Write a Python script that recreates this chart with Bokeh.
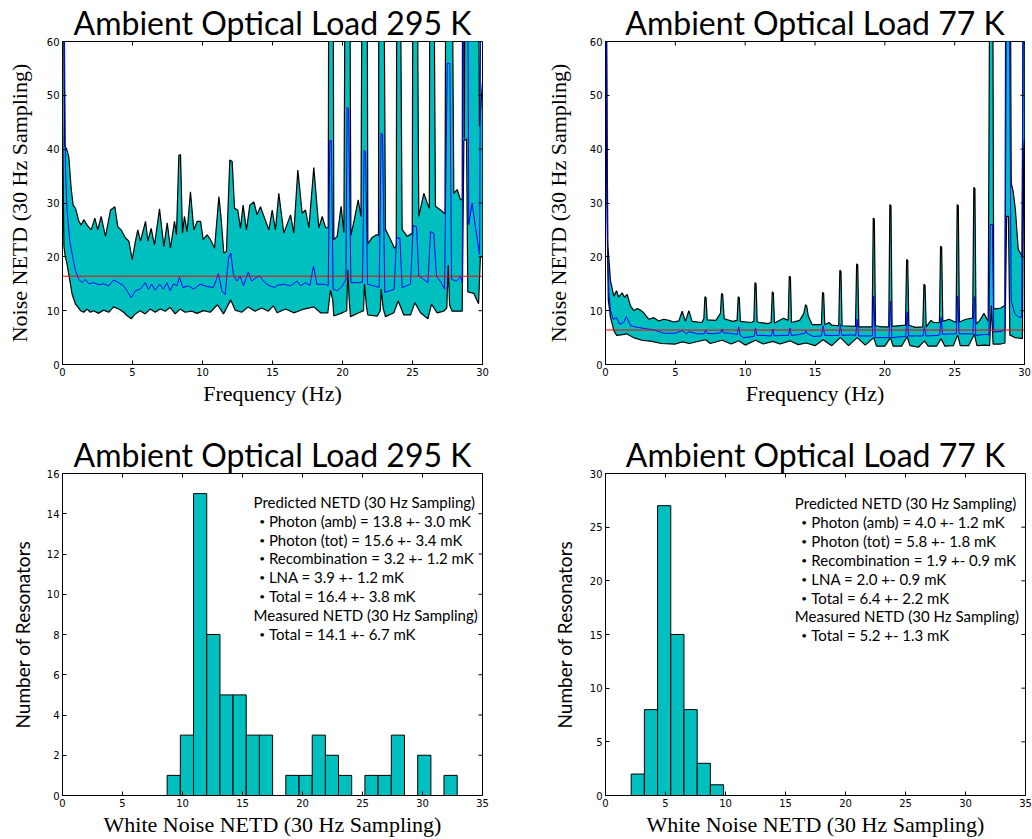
from bokeh.plotting import figure
from bokeh.models import Range1d, FixedTicker, Span, ColumnDataSource
from bokeh.layouts import column, row
from bokeh.embed import file_html
from bokeh.resources import INLINE
from bokeh.core.properties import value

# ---------------- noise spectra, 295 K load ----------------
freq_hi_295 = [0.0, 0.08, 0.16, 0.29, 0.45, 0.62, 0.76, 0.93, 1.17, 1.33, 1.52, 1.76, 2.05, 2.31, 2.52,
               2.76, 3.07, 3.43, 3.74, 3.95, 4.19, 4.5, 4.74, 4.98, 5.21, 5.38, 5.57, 5.93, 6.1, 6.33,
               6.57, 6.93, 7.24, 7.48, 7.71, 8.0, 8.14, 8.31, 8.43, 8.57, 8.71, 8.9, 9.14, 9.38, 9.62,
               9.86, 10.05, 10.33, 10.57, 10.86, 11.17, 11.33, 11.52, 11.71, 11.95, 12.12, 12.29, 12.52,
               12.71, 12.9, 13.14, 13.38, 13.67, 13.9, 14.14, 14.43, 14.74, 14.98, 15.21, 15.45, 15.81,
               16.29, 16.52, 16.81, 17.12, 17.36, 17.6, 17.95, 18.31, 18.55, 18.79, 18.98, 19.02, 19.33,
               19.38, 19.62, 19.9, 20.1, 20.19, 20.52, 20.6, 20.85, 21.12, 21.32, 21.4, 21.76, 21.81,
               22.12, 22.43, 22.57, 22.6, 22.95, 23.07, 23.43, 23.71, 23.84, 23.88, 24.12, 24.26, 24.62,
               24.98, 25.03, 25.33, 25.45, 25.81, 26.05, 26.2, 26.24, 26.52, 26.64, 27.0, 27.32, 27.38,
               27.83, 27.95, 28.19, 28.43, 28.55, 28.58, 28.65, 28.7, 28.76, 29.72, 29.78, 30.0]
netd_hi_295 = [90, 70, 40.5, 40.1, 38.6, 32.7, 29.6, 29.0, 26.6, 25.9, 26.9, 25.9, 25.0, 27.2, 25.0,
               27.5, 23.8, 28.7, 29.3, 25.6, 25.0, 23.5, 22.9, 19.5, 22.9, 25.0, 22.9, 26.6, 22.9, 25.3,
               22.2, 28.9, 21.9, 26.3, 21.6, 26.6, 24.1, 38.8, 39.0, 24.4, 27.5, 24.7, 32.1, 25.0, 26.6,
               26.6, 23.2, 24.1, 23.2, 21.6, 31.2, 27.2, 20.7, 21.0, 38.0, 37.7, 29.0, 28.7,
               25.3, 29.6, 25.0, 29.6, 30.2, 27.8, 29.3, 27.2, 25.0, 28.7, 25.0, 31.8, 24.4,
               27.8, 24.4, 36.1, 28.1, 28.7, 25.4, 36.6, 25.4, 27.5, 25.4, 25.4, 80, 80,
               23.2, 23.8, 29.4, 24.5, 80, 80, 24.0, 27.0, 30.6, 27.5, 80, 80, 22.4,
               23.6, 24.1, 24.0, 80, 80, 25.1, 23.2, 21.6, 22.0, 80, 80, 25.1, 23.8,
               24.4, 80, 80, 27.5, 31.8, 30.0, 29.0, 80, 80, 29.4, 28.7, 28.0, 80,
               80, 31.8, 32.5, 30.6, 30.6, 80, 80, 42.0, 80, 80, 44.2, 52.6]

freq_lo_295 = [0.0, 0.1, 0.2, 0.3, 0.45, 0.69, 0.93, 1.29, 1.52, 1.76, 1.99, 2.23, 2.58, 2.94, 3.3,
               3.65, 4.01, 4.37, 4.6, 4.91, 5.2, 5.55, 5.91, 6.26, 6.62, 6.98, 7.33, 7.69, 8.05, 8.4,
               8.76, 9.24, 9.6, 10.07, 10.55, 11.07, 11.5, 12.02, 12.33, 12.8, 13.27, 13.75, 14.23, 14.7,
               15.06, 15.33, 15.93, 16.52, 17.24, 17.95, 18.43, 18.95, 19.14, 19.3, 19.38, 19.98, 20.3,
               20.38, 20.48, 20.57, 21.17, 21.5, 21.57, 21.7, 21.81, 22.48, 22.7, 22.76, 22.9, 23.07,
               23.67, 23.98, 24.38, 24.86, 25.17, 25.57, 26.1, 26.36, 26.76, 27.24, 27.45, 27.55, 27.65,
               27.83, 28.55, 28.67, 28.86, 28.95, 29.38, 29.72, 29.85, 30.0]
netd_lo_295 = [45, 22, 20.0, 19.0, 16.7, 13.0, 11.2, 10.0, 9.7, 10.3, 9.7, 10.0, 9.5, 10.1, 9.7,
               10.7, 10.3, 9.7, 9.1, 8.5, 9.4, 10.0, 9.4, 10.3, 9.7, 10.3, 9.9, 10.6, 9.4, 10.3,
               9.7, 9.9, 9.5, 10.0, 9.7, 11.1, 9.4, 12.0, 10.1, 9.7, 10.7, 9.9, 10.5, 9.9,
               10.9, 9.6, 10.3, 9.6, 10.3, 10.7, 9.6, 9.6, 13.8, 12.0, 9.0, 9.6, 10.0,
               17.6, 12.0, 8.9, 9.6, 10.0, 15.0, 11.0, 9.2, 9.0, 10.0, 14.0, 10.5, 8.9,
               9.6, 11.8, 9.2, 9.2, 11.5, 9.6, 8.5, 11.2, 9.6, 9.9, 10.5, 18.5, 11.0,
               9.9, 9.9, 41.6, 41.9, 13.5, 13.2, 11.3, 20.0, 20.1]

freq_med_295 = [0.0, 0.12, 0.21, 0.33, 0.52, 0.76, 0.93, 1.17, 1.4, 1.64, 1.88, 2.23, 2.58, 2.94, 3.3,
                3.65, 4.01, 4.37, 4.6, 4.91, 5.2, 5.55, 5.91, 6.14, 6.38, 6.62, 6.93, 7.21, 7.45, 7.69,
                7.93, 8.17, 8.36, 8.6, 9.0, 9.36, 9.83, 10.31, 10.79, 11.14, 11.38, 11.62, 11.86, 12.02,
                12.21, 12.45, 12.69, 12.93, 13.27, 13.5, 13.86, 14.1, 14.45, 14.81, 15.17, 15.33, 15.81,
                16.29, 16.76, 17.0, 17.36, 17.67, 17.93, 18.17, 18.69, 18.98, 19.1, 19.2, 19.33, 19.64,
                20.0, 20.24, 20.33, 20.43, 20.6, 21.07, 21.43, 21.55, 21.65, 21.79, 22.26, 22.62, 22.76,
                22.86, 23.02, 23.69, 23.86, 24.1, 24.26, 24.86, 25.05, 25.29, 25.45, 25.81, 26.1, 26.29,
                26.52, 26.71, 27.05, 27.29, 27.48, 27.67, 27.79, 28.14, 28.43, 28.55, 28.62, 28.95, 29.02,
                29.26, 29.5, 29.79, 29.88, 30.0]
netd_med_295 = [90, 70, 36.4, 28.4, 22.9, 19.5, 17.4, 15.8, 15.2, 15.8, 15.0, 15.2, 14.8, 15.0, 14.6,
                15.7, 15.2, 14.6, 13.7, 12.4, 13.7, 14.0, 15.2, 14.0, 14.9, 13.8, 14.9, 14.0, 15.2, 13.7,
                15.0, 14.6, 16.2, 14.3, 14.6, 14.0, 14.9, 14.5, 14.3, 16.9, 13.7, 13.0, 19.8, 20.7,
                16.7, 15.5, 16.4, 14.6, 17.2, 15.5, 16.2, 16.4, 15.2, 14.6, 14.3, 14.7, 14.9,
                14.6, 15.5, 14.6, 15.2, 14.7, 18.3, 14.9, 14.9, 14.7, 41.6, 41.6, 14.0, 13.7,
                14.6, 15.8, 47.8, 47.5, 15.2, 15.2, 15.3, 39.8, 39.5, 14.9, 14.6, 14.3, 43.0,
                42.8, 13.4, 14.0, 23.5, 23.5, 14.3, 14.9, 25.8, 25.6, 16.4, 15.8, 15.2, 24.7,
                24.4, 16.4, 15.2, 14.0, 56.0, 55.9, 15.8, 15.5, 16.4, 15.2, 70, 70, 26.0,
                30.0, 25.4, 20.4, 70, 70]

# ---------------- noise spectra, 77 K load ----------------
freq_hi_77 = [0.0, 0.05, 0.12, 0.17, 0.36, 0.6, 0.79, 0.95, 1.19, 1.36, 1.55, 1.79, 2.03, 2.27, 2.5,
              2.74, 3.1, 3.46, 3.82, 4.18, 4.53, 4.89, 5.25, 5.49, 5.72, 5.97, 6.2, 6.9,
              7.04, 7.12, 7.2, 7.28, 7.9, 8.23, 8.31, 8.39, 8.5, 9.1,
              9.42, 9.5, 9.58, 9.66, 10.4, 10.62, 10.7, 10.78, 10.86, 11.6,
              11.86, 11.94, 12.02, 12.1, 12.75, 13.08, 13.16, 13.24, 13.32, 13.9,
              14.2, 14.32, 14.4, 14.52, 14.8, 15.46, 15.54, 15.62, 15.7, 16.0, 16.2,
              16.7, 16.78, 16.86, 16.94, 17.9, 17.98, 18.06, 18.14,
              19.09, 19.17, 19.25, 19.33, 19.8, 20.28, 20.36, 20.44, 20.52,
              21.48, 21.56, 21.64, 21.72, 22.2, 22.72, 22.8, 22.88, 22.96, 23.3, 23.5,
              23.91, 23.99, 24.07, 24.15, 24.6, 25.1, 25.18, 25.26, 25.34, 25.8,
              26.29, 26.37, 26.45, 26.53, 26.8, 27.1, 27.4, 27.52, 27.72, 27.8, 28.3, 28.6,
              28.66, 28.98, 29.05, 29.2, 29.35, 29.55, 29.83, 29.92, 30.0]
netd_hi_77 = [90, 80, 40, 22.0, 15.5, 12.7, 13.7, 12.5, 13.3, 12.5, 13.0, 10.9, 10.0, 10.4, 10.1,
              9.6, 8.4, 8.7, 8.1, 8.4, 8.2, 7.9, 8.1, 9.9, 8.0, 10.0, 8.0, 7.8,
              8.5, 12.6, 12.4, 8.3, 8.2, 9.5, 13.2, 13.0, 8.5, 8.0,
              8.2, 12.6, 12.4, 8.0, 7.8, 8.0, 15.2, 15.0, 7.9, 7.6,
              7.8, 13.5, 13.3, 7.7, 8.6, 8.2, 16.4, 16.2, 7.8, 8.2,
              9.5, 11.1, 10.9, 9.0, 7.4, 7.4, 13.4, 13.2, 7.4, 7.8, 7.3,
              7.2, 17.5, 17.3, 7.2, 7.1, 18.7, 18.5, 7.0,
              7.0, 27.2, 27.0, 7.2, 7.0, 7.0, 29.7, 29.5, 7.1,
              7.3, 19.5, 19.3, 7.3, 6.9, 7.0, 14.9, 14.7, 7.0, 8.2, 7.8,
              7.8, 22.0, 21.8, 8.0, 8.4, 7.8, 29.7, 29.5, 7.9, 8.4,
              8.6, 32.9, 32.7, 7.5, 8.2, 9.5, 8.0, 80, 80, 10.3, 10.5, 11.0,
              80, 80, 33.7, 32.0, 28.7, 21.4, 20.1, 80, 80]

freq_lo_77 = [0.0, 0.1, 0.2, 0.36, 0.6, 0.8, 1.1, 1.5, 2.0, 2.6, 3.3, 4.0, 5.0, 5.5, 6.0, 7.16, 7.5,
              8.35, 9.0, 9.54, 10.0, 10.74, 11.3, 11.98, 12.5, 13.2, 13.8, 14.36, 15.0, 15.58, 16.2,
              16.82, 17.4, 18.02, 18.6, 19.21, 19.4, 20.0, 20.4, 20.6, 21.2, 21.6, 21.8, 22.4, 22.84,
              23.1, 23.7, 24.03, 24.3, 24.9, 25.22, 25.4, 26.0, 26.41, 26.6, 27.2, 27.5, 27.63, 27.75,
              28.3, 28.6, 28.72, 28.85, 28.95, 29.3, 29.85, 29.95, 30.0]
netd_lo_77 = [60, 30, 12.0, 8.7, 6.3, 5.4, 5.5, 5.7, 5.0, 4.5, 4.3, 3.9, 3.8, 4.2, 3.9, 4.6, 3.9,
              4.5, 3.8, 4.4, 3.6, 4.5, 3.8, 4.3, 3.8, 4.4, 3.7, 4.0, 3.5, 4.6, 3.5,
              5.0, 3.5, 5.0, 3.6, 5.0, 3.4, 3.4, 5.0, 3.4, 3.4, 5.2, 3.5, 3.2, 4.4,
              3.4, 3.4, 4.8, 3.4, 3.5, 5.5, 3.5, 3.5, 5.6, 3.5, 3.6, 3.5, 11.0, 3.8,
              3.8, 4.0, 27.5, 27.5, 5.5, 5.0, 4.8, 40, 42]

freq_med_77 = [0.0, 0.08, 0.15, 0.25, 0.36, 0.55, 0.8, 1.0, 1.3, 1.5, 1.8, 2.3, 3.0, 3.5, 4.2, 5.0,
               5.5, 5.8, 6.0, 6.6, 7.06, 7.16, 7.26, 7.7, 8.25, 8.35, 8.45, 8.9, 9.44, 9.54, 9.64, 9.9,
               10.64, 10.74, 10.84, 11.2, 11.88, 11.98, 12.08, 12.5, 13.1, 13.2, 13.3, 13.7, 14.26,
               14.36, 14.46, 14.9, 15.46, 15.58, 15.7, 16.3, 16.72, 16.82, 16.92, 17.6, 17.92, 18.02,
               18.12, 19.0, 19.11, 19.21, 19.31, 20.2, 20.3, 20.4, 20.5, 21.4, 21.5, 21.6, 21.7, 22.6,
               22.74, 22.84, 22.94, 23.8, 23.93, 24.03, 24.13, 25.0, 25.12, 25.22, 25.32, 26.2, 26.31,
               26.41, 26.51, 27.2, 27.45, 27.55, 27.7, 27.8, 28.4, 28.6, 28.7, 28.9, 29.05, 29.3, 29.55,
               29.8, 29.9, 30.0]
netd_med_77 = [90, 60, 20.0, 13.0, 10.0, 8.4, 8.7, 7.5, 7.8, 8.9, 7.2, 6.9, 6.6, 6.4, 5.8, 5.8,
               6.3, 5.7, 6.1, 5.7, 5.7, 6.4, 5.8, 5.7, 5.9, 6.6, 5.9, 5.8, 5.6, 7.0, 5.4, 5.0,
               5.2, 6.8, 5.4, 5.4, 5.3, 6.6, 5.3, 5.4, 5.4, 6.8, 5.4, 5.5, 5.8,
               6.3, 5.7, 5.2, 5.3, 7.2, 5.4, 5.4, 5.4, 7.4, 5.4, 5.5, 5.4, 8.4,
               5.3, 5.3, 5.3, 12.7, 5.0, 5.0, 5.0, 11.8, 5.0, 5.2, 5.2, 9.8, 5.3, 5.3,
               5.3, 7.0, 5.3, 5.4, 5.5, 8.7, 5.6, 5.7, 5.7, 12.7, 5.7, 5.7, 5.7,
               12.6, 5.4, 5.6, 5.5, 26.0, 26.0, 6.0, 6.2, 6.5, 70, 70, 11.8, 9.5, 8.8,
               8.8, 70, 70]

# predicted total NETD (mK) drawn as the reference level
predicted_total_295 = 16.4
predicted_total_77 = 6.4

# ---------------- white-noise histograms ----------------
edges_295 = [8.72, 9.82, 10.92, 12.02, 13.12, 14.21, 15.31, 16.41, 17.51, 18.61, 19.71, 20.81,
             21.91, 23.00, 24.10, 25.20, 26.30, 27.40, 28.50, 29.60, 30.70, 31.79, 32.89]
counts_295 = [1, 3, 15, 8, 5, 5, 3, 3, 0, 1, 1, 3, 2, 1, 0, 1, 1, 3, 0, 2, 0, 1]
edges_77 = [2.14, 3.24, 4.34, 5.44, 6.54, 7.64, 8.74, 9.84]
counts_77 = [2, 8, 27, 15, 8, 3, 1]

# (is_bullet_item, text)
notes_295 = [(False, "Predicted NETD (30 Hz Sampling)"),
             (True, "Photon (amb) = 13.8 +- 3.0 mK"),
             (True, "Photon (tot) = 15.6 +- 3.4 mK"),
             (True, "Recombination = 3.2 +- 1.2 mK"),
             (True, "LNA = 3.9 +- 1.2 mK"),
             (True, "Total = 16.4 +- 3.8 mK"),
             (False, "Measured NETD (30 Hz Sampling)"),
             (True, "Total = 14.1 +- 6.7 mK")]
notes_77 = [(False, "Predicted NETD (30 Hz Sampling)"),
            (True, "Photon (amb) = 4.0 +- 1.2 mK"),
            (True, "Photon (tot) = 5.8 +- 1.8 mK"),
            (True, "Recombination = 1.9 +- 0.9 mK"),
            (True, "LNA = 2.0 +- 0.9 mK"),
            (True, "Total = 6.4 +- 2.2 mK"),
            (False, "Measured NETD (30 Hz Sampling)"),
            (True, "Total = 5.2 +- 1.3 mK")]

CYAN = "#00bfbf"
SANS = "Lato"
SERIF = "Liberation Serif"
TICK_FONT = "DejaVu Sans"
TICK_LEN = 4  # px, ticks drawn inward


def base_figure(title, xr, yr, xticks, yticks, xlabel, ylabel, ylabel_font, ylabel_size,
                ylabel_standoff, width, height, left, right, top, bottom):
    p = figure(width=width, height=height, x_range=Range1d(*xr), y_range=Range1d(*yr),
               min_border_left=left, min_border_right=right, min_border_top=top,
               min_border_bottom=bottom, output_backend="svg", toolbar_location=None,
               background_fill_color="white", border_fill_color="white")
    p.title.text = title
    p.title.text_font = SANS
    p.title.text_font_size = "32px"
    p.title.text_font_style = "normal"
    p.title.text_color = "black"
    p.title.align = "center"
    p.title.standoff = 0
    p.xgrid.visible = False
    p.ygrid.visible = False
    p.outline_line_color = "black"
    p.outline_line_width = 1

    for ax, ticks in ((p.xaxis[0], xticks), (p.yaxis[0], yticks)):
        ax.ticker = FixedTicker(ticks=ticks)
        ax.major_tick_in = TICK_LEN
        ax.major_tick_out = 0
        ax.minor_tick_in = 0
        ax.minor_tick_out = 0
        ax.axis_line_color = "black"
        ax.major_tick_line_color = "black"
        ax.major_label_text_font = TICK_FONT
        ax.major_label_text_font_size = "10px"
        ax.major_label_text_color = "black"
        ax.axis_label_text_font_style = "normal"
        ax.axis_label_text_color = "black"
    p.xaxis.major_label_standoff = 3
    p.yaxis.major_label_standoff = 3
    p.xaxis.axis_label = xlabel
    p.xaxis.axis_label_text_font = SERIF
    p.xaxis.axis_label_text_font_size = "22px"
    p.xaxis.axis_label_standoff = 2
    p.yaxis.axis_label = ylabel
    p.yaxis.axis_label_text_font = ylabel_font
    p.yaxis.axis_label_text_font_size = ylabel_size
    p.yaxis.axis_label_standoff = ylabel_standoff
    return p


def mirror_ticks(p, xticks, yticks, frame_w, frame_h):
    """Inward tick marks along the top and right spines."""
    x0, x1 = p.x_range.start, p.x_range.end
    y0, y1 = p.y_range.start, p.y_range.end
    dy = TICK_LEN * (y1 - y0) / frame_h
    dx = TICK_LEN * (x1 - x0) / frame_w
    p.segment(x0=xticks, y0=[y1] * len(xticks), x1=xticks, y1=[y1 - dy] * len(xticks),
              line_color="black", line_width=1)
    p.segment(x0=[x1] * len(yticks), y0=yticks, x1=[x1 - dx] * len(yticks), y1=yticks,
              line_color="black", line_width=1)


def spectrum(p, f_hi, hi, f_lo, lo, f_med, med, level):
    p.patch(x=f_hi + f_lo[::-1], y=hi + lo[::-1], fill_color=CYAN, line_color=None)
    p.line(f_hi, hi, line_color="black", line_width=1.2)
    p.line(f_lo, lo, line_color="black", line_width=1.2)
    p.line(f_med, med, line_color="#0000ff", line_width=1)
    p.add_layout(Span(location=level, dimension="width", line_color="#ff0000", line_width=1))


def histogram(p, edges, counts):
    src = ColumnDataSource(dict(left=edges[:-1], right=edges[1:], top=counts,
                                bottom=[0] * len(counts)))
    p.quad(left="left", right="right", top="top", bottom="bottom", source=src,
           fill_color=CYAN, line_color="black", line_width=1)


def notes(p, lines, x_head, x_bullet, x_item, y_first, y_step):
    ys = [y_first - i * y_step for i in range(len(lines))]
    xs = [x_item if bullet else x_head for bullet, _ in lines]
    src = ColumnDataSource(dict(x=xs, y=ys, t=[t for _, t in lines]))
    p.text(x="x", y="y", text="t", source=src, text_font=value(SANS),
           text_font_size=value("15px"), text_color="black", text_baseline="alphabetic",
           text_align="left")
    by = [y for (bullet, _), y in zip(lines, ys) if bullet]
    bsrc = ColumnDataSource(dict(x=[x_bullet] * len(by), y=by, t=["•"] * len(by)))
    p.text(x="x", y="y", text="t", source=bsrc, text_font=value(SANS),
           text_font_size=value("10px"), text_color="black", text_baseline="alphabetic",
           text_align="left")


spec_x = [0, 5, 10, 15, 20, 25, 30]
spec_y = [0, 10, 20, 30, 40, 50, 60]
ylab_spec = "Noise NETD (30 Hz Sampling)"

p1 = base_figure("Ambient Optical Load 295 K", (0, 30), (0, 60), spec_x, spec_y,
                 "Frequency (Hz)", ylab_spec, SERIF, "22px", 12,
                 516, 420, 62, 34, 39, 56)
spectrum(p1, freq_hi_295, netd_hi_295, freq_lo_295, netd_lo_295, freq_med_295, netd_med_295,
         predicted_total_295)
mirror_ticks(p1, spec_x, spec_y, 420, 325)

p2 = base_figure("Ambient Optical Load 77 K", (0, 30), (0, 60), spec_x, spec_y,
                 "Frequency (Hz)", ylab_spec, SERIF, "22px", 16,
                 516, 420, 89, 8, 39, 56)
spectrum(p2, freq_hi_77, netd_hi_77, freq_lo_77, netd_lo_77, freq_med_77, netd_med_77,
         predicted_total_77)
mirror_ticks(p2, spec_x, spec_y, 419, 325)

hist_x = [0, 5, 10, 15, 20, 25, 30, 35]
hist_y_295 = [0, 2, 4, 6, 8, 10, 12, 14, 16]
hist_y_77 = [0, 5, 10, 15, 20, 25, 30]

p3 = base_figure("Ambient Optical Load 295 K", (0, 35), (0, 16), hist_x, hist_y_295,
                 "White Noise NETD (30 Hz Sampling)", "Number of Resonators", SANS, "19px", 10,
                 516, 419, 62, 34, 53, 40)
histogram(p3, edges_295, counts_295)
notes(p3, notes_295, 15.92, 16.4, 17.2, 14.59, 0.9375)
mirror_ticks(p3, hist_x, hist_y_295, 420, 326)

p4 = base_figure("Ambient Optical Load 77 K", (0, 35), (0, 30), hist_x, hist_y_77,
                 "White Noise NETD (30 Hz Sampling)", "Number of Resonators", SANS, "19px", 11,
                 516, 419, 89, 7, 52, 42)
histogram(p4, edges_77, counts_77)
notes(p4, notes_77, 15.78, 16.32, 17.15, 27.26, 1.763)
mirror_ticks(p4, hist_x, hist_y_77, 420, 325)

layout = column(row(p1, p2, spacing=0), row(p3, p4, spacing=0), spacing=0)

with open("out.html", "w") as fh:
    fh.write(file_html(layout, INLINE))
